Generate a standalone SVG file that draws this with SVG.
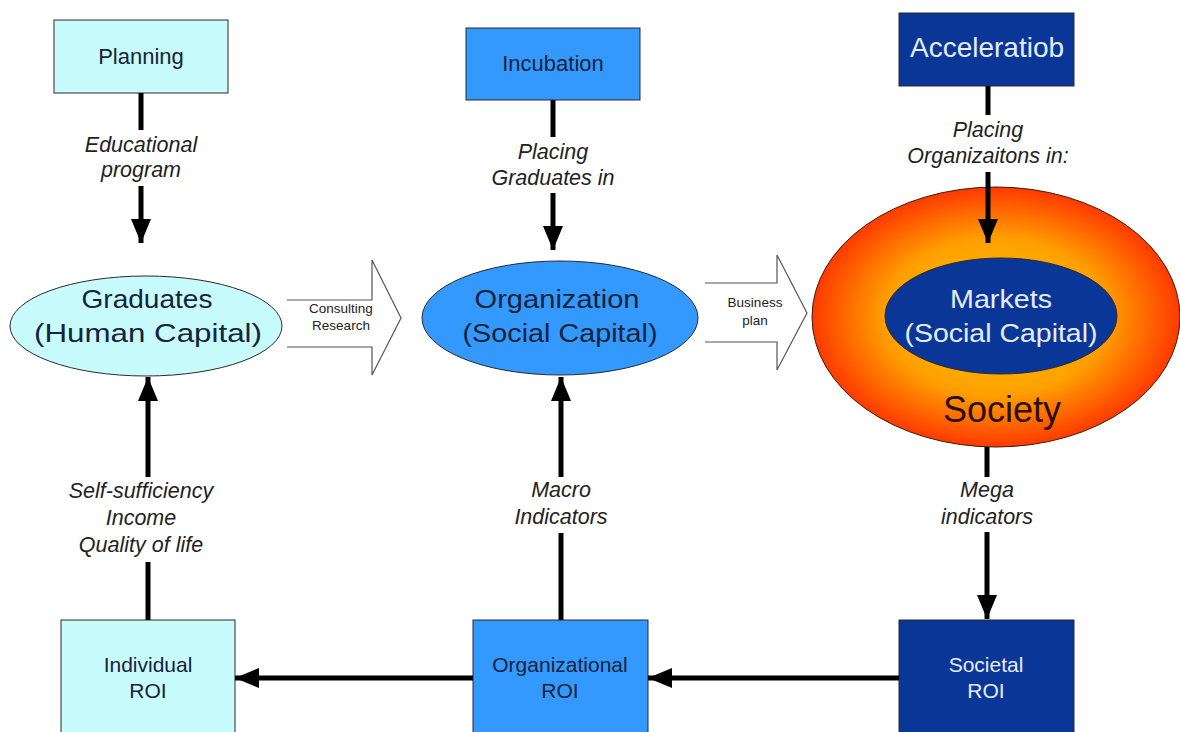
<svg xmlns="http://www.w3.org/2000/svg" width="1180" height="732" viewBox="0 0 1180 732">
<style>
.box{stroke:#2a2a2a;stroke-width:1}
.lc{fill:#c8fbfc}
.mb{fill:#3399ff}
.db{fill:#0a3797}
.t{font-family:"Liberation Sans",Arial,sans-serif;text-anchor:middle}
.dk{fill:#17233a}
.lt{fill:#e4ecff}
.lab{font-family:"Liberation Sans",Arial,sans-serif;font-style:italic;font-size:21.5px;text-anchor:middle;fill:#222}
.ln{stroke:#000;stroke-width:5;fill:none}
.blk{fill:#fff;stroke:#555;stroke-width:1.2}
</style>
<defs>
<marker id="ah" markerUnits="userSpaceOnUse" markerWidth="24" markerHeight="20" refX="24" refY="10" orient="auto">
<path d="M0,0 L24,10 L0,20 z" fill="#000"/>
</marker>
<radialGradient id="soc" cx="0.5" cy="0.5" r="0.5">
<stop offset="0" stop-color="#ffc400"/>
<stop offset="0.6" stop-color="#ffa000"/>
<stop offset="1" stop-color="#ff3a00"/>
</radialGradient>
</defs>
<rect width="1180" height="732" fill="#fff"/>

<g id="planning">
<rect class="box lc" x="54" y="20" width="174" height="73"/>
<text class="t dk" x="141" y="64" font-size="22">Planning</text>
</g>
<g id="incubation">
<rect class="box mb" x="466" y="28" width="174" height="72"/>
<text class="t dk" x="553" y="71" font-size="22">Incubation</text>
</g>
<g id="acceleration">
<rect class="box db" x="899" y="13" width="175" height="73"/>
<text class="t lt" x="987" y="57" font-size="28">Acceleratiob</text>
</g>

<g id="graduates">
<ellipse class="box lc" cx="146" cy="326" rx="136" ry="50"/>
<text class="t dk" x="147" y="308" font-size="25" textLength="131" lengthAdjust="spacingAndGlyphs">Graduates</text>
<text class="t dk" x="148" y="342" font-size="25" textLength="228" lengthAdjust="spacingAndGlyphs">(Human Capital)</text>
</g>
<g id="organization">
<ellipse class="box mb" cx="560" cy="318" rx="138" ry="57"/>
<text class="t dk" x="557" y="308" font-size="25" textLength="165" lengthAdjust="spacingAndGlyphs">Organization</text>
<text class="t dk" x="560" y="342" font-size="25" textLength="195" lengthAdjust="spacingAndGlyphs">(Social Capital)</text>
</g>
<g id="society">
<ellipse cx="996" cy="317" rx="184" ry="130" fill="url(#soc)" stroke="#3a1a00" stroke-width="1"/>
<text class="t" x="1002" y="422" font-size="36" fill="#2a0e00">Society</text>
</g>
<g id="markets">
<ellipse class="box db" cx="1001" cy="316" rx="116" ry="58"/>
<text class="t lt" x="1001" y="308" font-size="25" textLength="102" lengthAdjust="spacingAndGlyphs">Markets</text>
<text class="t lt" x="1001" y="342" font-size="25" textLength="193" lengthAdjust="spacingAndGlyphs">(Social Capital)</text>
</g>

<g id="individual-roi">
<rect class="box lc" x="61" y="620" width="174" height="130"/>
<text class="t dk" x="148" y="672" font-size="21">Individual</text>
<text class="t dk" x="148" y="698" font-size="21">ROI</text>
</g>
<g id="organizational-roi">
<rect class="box mb" x="473" y="620" width="175" height="130"/>
<text class="t dk" x="560" y="672" font-size="21">Organizational</text>
<text class="t dk" x="560" y="698" font-size="21">ROI</text>
</g>
<g id="societal-roi">
<rect class="box db" x="899" y="620" width="175" height="130"/>
<text class="t lt" x="986" y="672" font-size="21">Societal</text>
<text class="t lt" x="986" y="698" font-size="21">ROI</text>
</g>

<g id="connectors">
<line class="ln" x1="141" y1="93" x2="141" y2="130"/>
<line class="ln" x1="141" y1="186" x2="141" y2="243" marker-end="url(#ah)"/>
<line class="ln" x1="553" y1="100" x2="553" y2="137"/>
<line class="ln" x1="553" y1="193" x2="553" y2="250" marker-end="url(#ah)"/>
<line class="ln" x1="988" y1="86" x2="988" y2="115"/>
<line class="ln" x1="988" y1="172" x2="988" y2="243" marker-end="url(#ah)"/>
<line class="ln" x1="987" y1="447" x2="987" y2="477"/>
<line class="ln" x1="987" y1="532" x2="987" y2="619" marker-end="url(#ah)"/>
<line class="ln" x1="148" y1="620" x2="148" y2="562"/>
<line class="ln" x1="148" y1="477" x2="148" y2="377" marker-end="url(#ah)"/>
<line class="ln" x1="561" y1="620" x2="561" y2="533"/>
<line class="ln" x1="561" y1="477" x2="561" y2="377" marker-end="url(#ah)"/>
<line class="ln" x1="899" y1="678" x2="648" y2="678" marker-end="url(#ah)"/>
<line class="ln" x1="473" y1="678" x2="235" y2="678" marker-end="url(#ah)"/>
<g id="arrow-consulting">
<path class="blk" d="M287,300 L372,300 L372,260 L401,318 L372,375 L372,347 L287,347"/>
<text class="t" x="341" y="313" font-size="13.5" fill="#222">Consulting</text>
<text class="t" x="341" y="330" font-size="13.5" fill="#222">Research</text>
</g>
<g id="arrow-business">
<path class="blk" d="M705,283 L777,283 L777,255 L807,313 L777,370 L777,342 L705,342"/>
<text class="t" x="755" y="307" font-size="13.5" fill="#222">Business</text>
<text class="t" x="755" y="325" font-size="13.5" fill="#222">plan</text>
</g>
<text class="lab" x="141" y="152">Educational</text>
<text class="lab" x="141" y="177">program</text>
<text class="lab" x="553" y="159">Placing</text>
<text class="lab" x="553" y="185">Graduates in</text>
<text class="lab" x="988" y="137">Placing</text>
<text class="lab" x="988" y="163">Organizaitons in:</text>
<text class="lab" x="987" y="497">Mega</text>
<text class="lab" x="987" y="524">indicators</text>
<text class="lab" x="141" y="498">Self-sufficiency</text>
<text class="lab" x="141" y="525">Income</text>
<text class="lab" x="141" y="552">Quality of life</text>
<text class="lab" x="561" y="497">Macro</text>
<text class="lab" x="561" y="524">Indicators</text>
</g>
</svg>
